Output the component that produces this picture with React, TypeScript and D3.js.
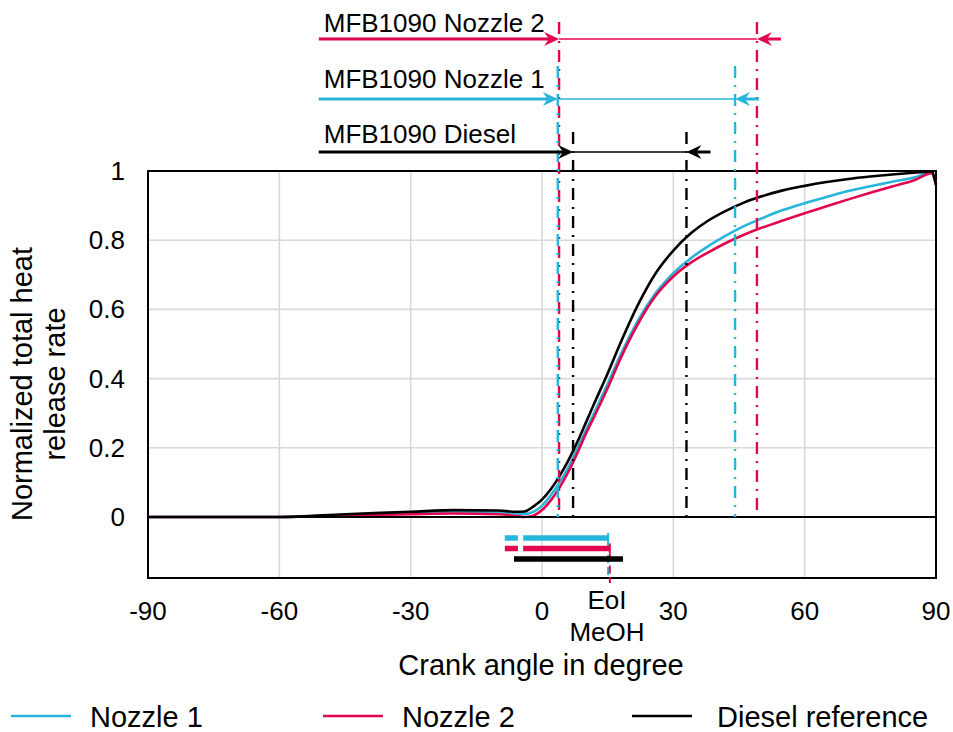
import React from 'react';
import * as d3 from 'd3';

// ---- data ----
const crankAngles = [-90, -60, -45, -30, -20, -10, -6, -4, -2, 0, 2, 4, 6, 8, 10, 12, 15, 18, 22, 26, 30, 34, 38, 42, 46, 50, 55, 60, 65, 70, 75, 80, 85, 89, 90];
const nozzle1 = [0, 0, 0.006, 0.012, 0.016, 0.014, 0.01, 0.009, 0.015, 0.033, 0.063, 0.1, 0.143, 0.195, 0.25, 0.303, 0.385, 0.47, 0.57, 0.648, 0.705, 0.748, 0.783, 0.813, 0.84, 0.862, 0.887, 0.907, 0.925, 0.942, 0.956, 0.969, 0.981, 0.996, 0.96];
const nozzle2 = [0, 0, 0.004, 0.008, 0.01, 0.008, 0.003, 0.0, 0.004, 0.02, 0.048, 0.085, 0.13, 0.183, 0.24, 0.292, 0.373, 0.46, 0.56, 0.64, 0.695, 0.735, 0.765, 0.792, 0.815, 0.835, 0.857, 0.878, 0.898, 0.918, 0.937, 0.955, 0.973, 0.994, 0.96];
const diesel = [0, 0, 0.008, 0.015, 0.02, 0.019, 0.015, 0.016, 0.03, 0.05, 0.08, 0.118, 0.163, 0.215, 0.272, 0.33, 0.415, 0.505, 0.615, 0.705, 0.77, 0.82, 0.857, 0.885, 0.908, 0.926, 0.944, 0.957, 0.968, 0.977, 0.984, 0.99, 0.995, 0.999, 0.96];

const xTicks = [-90, -60, -30, 0, 30, 60, 90];
const yTicks = [0, 0.2, 0.4, 0.6, 0.8, 1];
const yTickLabels = ['0', '0.2', '0.4', '0.6', '0.8', '1'];

// MFB10 / MFB90 markers (deg CA)
const mfbLabels = ['MFB1090 Nozzle 2', 'MFB1090 Nozzle 1', 'MFB1090 Diesel'];
const mfb10 = [3.9, 3.6, 7.1];
const mfb90 = [49.1, 44.1, 33.0];

// injection timing (deg CA)
const injNames = ['Nozzle 1', 'Nozzle 2', 'Diesel'];
const pilotStart = [-8.5, -8.5, null];
const pilotEnd = [-5.5, -5.5, null];
const mainStart = [-4.3, -4.3, -6.4];
const mainEnd = [15.1, 15.5, 18.5];

const legendNames = ['Nozzle 1', 'Nozzle 2', 'Diesel reference'];

// ---- styles ----
const CYAN = '#27b6da';
const RED = '#e3064f';
const BLACK = '#000000';
const GRID = '#d9d9d9';
const FONT = "'Liberation Sans', Arial, Helvetica, sans-serif";

export default function App() {
  const W = 953, H = 732;
  const left = 148, right = 936, top = 171, bottom = 578;
  const x = d3.scaleLinear().domain([-90, 90]).range([left, right]);
  const y = d3.scaleLinear().domain([0, 1]).range([517, top]);

  const line = d3.line<[number, number]>()
    .x(d => x(d[0]))
    .y(d => y(d[1]))
    .curve(d3.curveMonotoneX);

  const series = [
    { vals: nozzle1, color: CYAN },
    { vals: nozzle2, color: RED },
    { vals: diesel, color: BLACK },
  ];

  const mfbColors = [RED, CYAN, BLACK];
  const arrowY = [39, 99, 152];
  const lineTop = [22, 66, 132];
  const labelY = [32, 88, 143];
  const injColors = [CYAN, RED, BLACK];

  const dashDot = '12,7,2,7';

  const arrowHead = (tx: number, ty: number, dir: number, color: string) => {
    const L = 15, Hh = 7, N = 10;
    const p = `M${tx},${ty} L${tx - dir * L},${ty - Hh} L${tx - dir * N},${ty} L${tx - dir * L},${ty + Hh} Z`;
    return <path d={p} fill={color} stroke="none" />;
  };

  return (
    <svg width={W} height={H} style={{ position: 'absolute', left: 0, top: 0, background: '#fff' }} fontFamily={FONT}>
      <rect x={0} y={0} width={W} height={H} fill="#fff" />
      {/* grid */}
      {xTicks.filter(t => t > -90 && t < 90).map(t => (
        <line key={'gx' + t} x1={x(t)} x2={x(t)} y1={top} y2={bottom} stroke={GRID} strokeWidth={1.6} />
      ))}
      {yTicks.filter(t => t > 0 && t < 1).map(t => (
        <line key={'gy' + t} x1={left} x2={right} y1={y(t)} y2={y(t)} stroke={GRID} strokeWidth={1.6} />
      ))}
      {/* frame */}
      <rect x={left} y={top} width={right - left} height={bottom - top} fill="none" stroke={BLACK} strokeWidth={2} />
      {/* curves */}
      {series.map((s, i) => (
        <path key={'s' + i} d={line(crankAngles.map((a, j) => [a, s.vals[j]] as [number, number])) || ''}
          fill="none" stroke={s.color} strokeWidth={2.6} />
      ))}
      {/* zero line */}
      <line x1={left} x2={right} y1={y(0)} y2={y(0)} stroke={BLACK} strokeWidth={2} />

      {/* injection bars */}
      {injNames.map((n, i) => {
        const ry = y(0) + 21 + i * 10.5;
        const c = injColors[i];
        const ps = pilotStart[i], pe = pilotEnd[i];
        return (
          <g key={'inj' + i}>
            {ps !== null && pe !== null && (
              <line x1={x(ps)} x2={x(pe)} y1={ry} y2={ry} stroke={c} strokeWidth={5.5} />
            )}
            <line x1={x(mainStart[i])} x2={x(mainEnd[i])} y1={ry} y2={ry} stroke={c} strokeWidth={5.5} />
            {ps !== null && (
              <>
                <line x1={x(mainEnd[i])} x2={x(mainEnd[i])} y1={ry - 5} y2={ry + 5} stroke={c} strokeWidth={2} />
                <line x1={x(mainEnd[i])} x2={x(mainEnd[i])} y1={ry + 5} y2={bottom + (i === 1 ? 5 : 0)} stroke={c} strokeWidth={2} strokeDasharray="8,4" />
              </>
            )}
          </g>
        );
      })}

      {/* MFB markers */}
      {mfbLabels.map((lab, i) => {
        const c = mfbColors[i];
        const x10 = x(mfb10[i]);
        const x90 = x(mfb90[i]);
        const ay = arrowY[i];
        const xs = x(-51);
        return (
          <g key={'mfb' + i}>
            <line x1={x10} x2={x10} y1={lineTop[i]} y2={y(0)} stroke={c} strokeWidth={2.4} strokeDasharray={dashDot} />
            <line x1={x90} x2={x90} y1={lineTop[i]} y2={y(0)} stroke={c} strokeWidth={2.4} strokeDasharray={dashDot} />
            <line x1={xs} x2={x10 - 8} y1={ay} y2={ay} stroke={c} strokeWidth={3} />
            {arrowHead(x10, ay, 1, c)}
            <line x1={x10} x2={x90} y1={ay} y2={ay} stroke={c} strokeWidth={1.3} />
            {arrowHead(x90, ay, -1, c)}
            <line x1={x90 + 8} x2={x90 + 24} y1={ay} y2={ay} stroke={c} strokeWidth={3} />
            <text x={xs + 5} y={labelY[i]} fontSize={26} fill={BLACK}>{lab}</text>
          </g>
        );
      })}

      {/* y ticks */}
      {yTicks.map((t, i) => (
        <text key={'yt' + t} x={125} y={y(t) + 9} fontSize={26} textAnchor="end">{yTickLabels[i]}</text>
      ))}
      {/* x ticks */}
      {xTicks.map(t => (
        <text key={'xt' + t} x={x(t)} y={620} fontSize={26} textAnchor="middle">{String(t)}</text>
      ))}
      <text x={607} y={609} fontSize={26} textAnchor="middle">EoI</text>
      <text x={607} y={641} fontSize={26} textAnchor="middle">MeOH</text>

      {/* axis titles */}
      <text x={541} y={675} fontSize={29} textAnchor="middle">Crank angle in degree</text>
      <g transform="translate(32,384) rotate(-90)">
        <text x={0} y={0} fontSize={29} textAnchor="middle">Normalized total heat</text>
        <text x={0} y={33} fontSize={29} textAnchor="middle">release rate</text>
      </g>

      {/* legend */}
      {legendNames.map((n, i) => {
        const lx = [11, 323, 632][i];
        return (
          <g key={'lg' + i}>
            <line x1={lx} x2={lx + 60} y1={716} y2={716} stroke={injColors[i]} strokeWidth={2.6} />
            <text x={lx + (i === 2 ? 85 : 79)} y={727} fontSize={29}>{n}</text>
          </g>
        );
      })}
    </svg>
  );
}
